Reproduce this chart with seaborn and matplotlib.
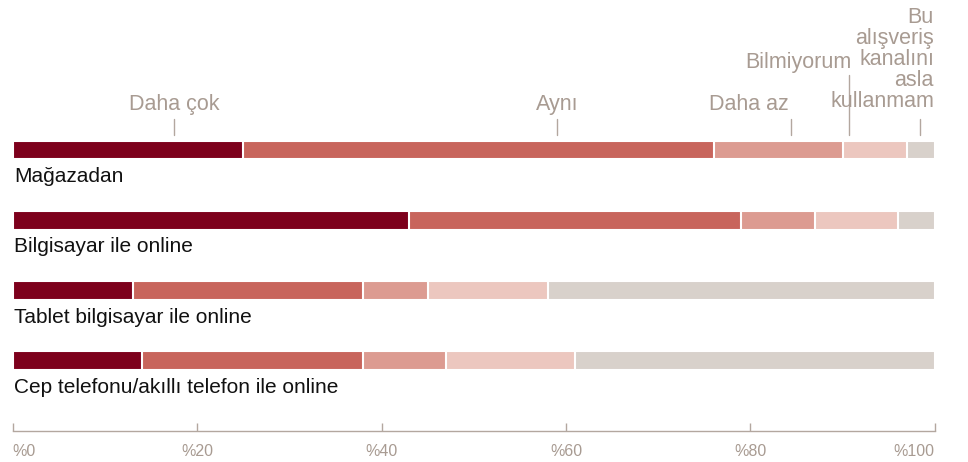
import matplotlib
matplotlib.use("Agg")
import matplotlib.pyplot as plt
import seaborn as sns
import pandas as pd
import numpy as np

# ---------------- data ----------------
rows = ["Mağazadan", "Bilgisayar ile online", "Tablet bilgisayar ile online",
        "Cep telefonu/akıllı telefon ile online"]
categories = ["Daha çok", "Aynı", "Daha az", "Bilmiyorum",
              "Bu\nalışveriş\nkanalını\nasla\nkullanmam"]
daha_cok = [25, 43, 13, 14]
ayni = [51, 36, 25, 24]
daha_az = [14, 8, 7, 9]
bilmiyorum = [7, 9, 13, 14]
asla = [3, 4, 42, 39]
callout_x = [17.5, 59, 84.4, 90.7, 98.4]
x_ticks = [0, 20, 40, 60, 80, 100]
x_tick_labels = ["%0", "%20", "%40", "%60", "%80", "%100"]

colors = ["#7d001c", "#c8655c", "#dc9b91", "#ecc7bf", "#d8d1cb"]
grey = "#a89b92"
axis_grey = "#b3a79f"

series = [daha_cok, ayni, daha_az, bilmiyorum, asla]
cum = np.cumsum(np.array(series), axis=0)  # cumulative per category

sns.set_theme(style="white")
plt.rcParams["font.family"] = ["Liberation Sans", "DejaVu Sans"]

fig = plt.figure(figsize=(9.68, 4.62), dpi=100)
ax = fig.add_axes([0, 31 / 462, 1, 431 / 462])

# draw stacked bars as overlays (largest cumulative first)
for i in range(len(categories) - 1, -1, -1):
    df = pd.DataFrame({"row": rows, "value": cum[i]})
    sns.barplot(data=df, x="value", y="row", order=rows, orient="h",
                color=colors[i], saturation=1, width=0.27,
                edgecolor="white", linewidth=1.5, ax=ax)

px = 9.22  # pixels per percent
x0 = 12.8
ax.set_xlim(-x0 / px, (968 - x0) / px)
ax.set_ylim((431 - 150) / 70.33, -150 / 70.33)

def ypix(p):
    return (p - 150) / 70.33

# row labels
for j, r in enumerate(rows):
    ax.text(0.13, j + 0.455, r, fontsize=15, color="#111111",
            ha="left", va="baseline")

# callouts
label_cfg = [
    (callout_x[0], "center", 110, 119),
    (callout_x[1], "center", 110, 119),
    (84.2, "right", 110, 119),
    (91.0, "right", 67.7, 75),
    (99.9, "right", 107, 119),
]
line_step = 21.0
for k, (tx, ha, base, ttop) in enumerate(label_cfg):
    lines = categories[k].split("\n")
    n = len(lines)
    for li, txt in enumerate(lines):
        b = base - (n - 1 - li) * line_step
        ax.text(tx, ypix(b), txt, fontsize=15.5, color=grey,
                ha=ha, va="baseline")
    ax.plot([callout_x[k], callout_x[k]], [ypix(ttop), ypix(135)],
            color=axis_grey, lw=1)

# axis styling
ax.set_xlabel("")
ax.set_ylabel("")
ax.set_yticks([])
for s in ["left", "right", "top"]:
    ax.spines[s].set_visible(False)
ax.spines["bottom"].set_visible(True)
ax.spines["bottom"].set_color(axis_grey)
ax.spines["bottom"].set_linewidth(1)
ax.spines["bottom"].set_bounds(0, 100)
ax.set_xticks(x_ticks)
ax.set_xticklabels(x_tick_labels)
ax.tick_params(axis="x", direction="in", length=6, width=1, color=axis_grey,
               labelcolor=grey, labelsize=11.5, pad=9, bottom=True)
labels = ax.get_xticklabels()
labels[0].set_ha("left")
labels[-1].set_ha("right")
ax.grid(False)
ax.set_facecolor("white")

fig.savefig("out.png", dpi=100, facecolor="white")
